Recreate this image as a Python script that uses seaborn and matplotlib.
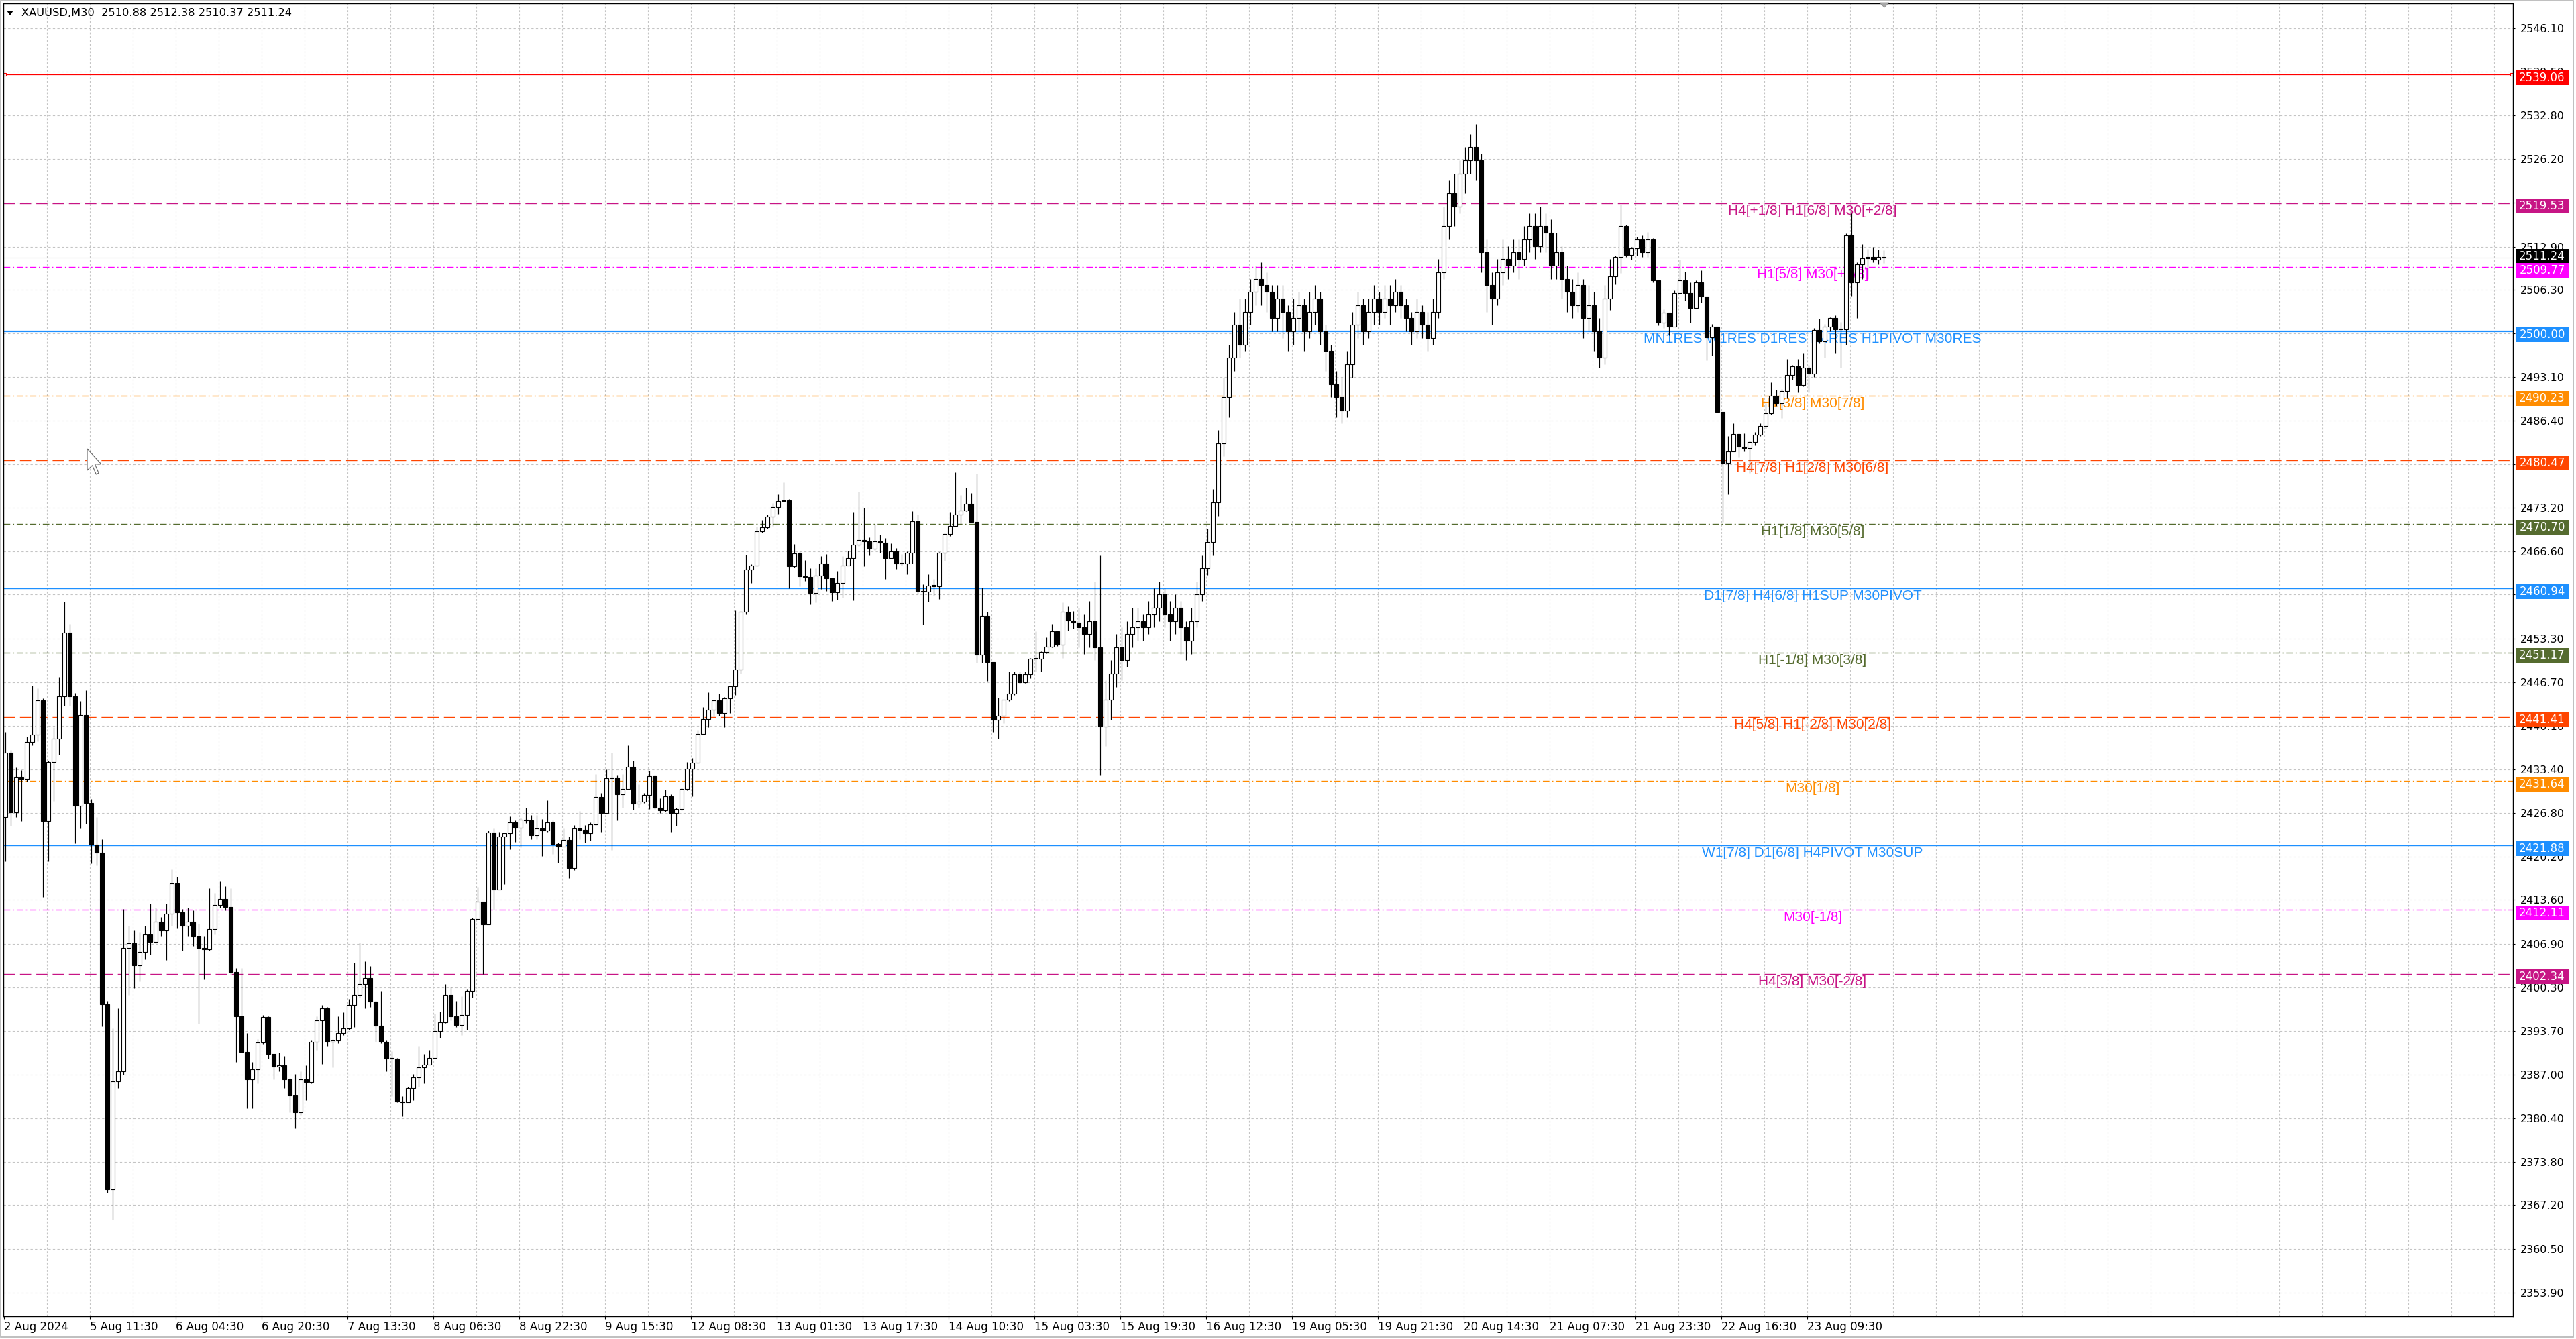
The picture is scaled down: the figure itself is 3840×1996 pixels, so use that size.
import numpy as np
import pandas as pd
import matplotlib
matplotlib.use("Agg")
import matplotlib.pyplot as plt
import seaborn as sns
from matplotlib.patches import Rectangle, Polygon
import matplotlib.transforms as mtransforms

# ---------------- DATA (XAUUSD, hourly aggregation of the M30 chart) ----------------
first_open = 2426.2

# 2 Aug 18:30 - 5 Aug
close_a = [2436.0, 2426.9, 2432.3, 2432.0, 2437.6, 2438.7, 2443.9, 2425.6, 2434.5, 2438.1,
           2444.5, 2454.2, 2444.5, 2427.9, 2441.7, 2428.3, 2422.0, 2420.8, 2397.7, 2369.6,
           2386.0, 2387.5, 2406.3, 2407.0, 2403.6, 2405.7, 2408.3, 2407.2, 2410.3, 2409.0,
           2411.5, 2416.1, 2411.7, 2409.7, 2410.3, 2408.0, 2406.3, 2406.1, 2409.2, 2412.8,
           2413.7, 2412.5, 2402.6, 2395.9, 2390.5, 2386.3, 2387.8, 2391.9, 2395.8]
high_a = [2439.1, 2436.4, 2433.7, 2433.3, 2438.4, 2446.2, 2445.8, 2444.2, 2434.7, 2439.8,
          2447.5, 2458.9, 2455.6, 2445.0, 2443.8, 2445.5, 2428.9, 2426.2, 2422.8, 2398.2,
          2394.1, 2397.1, 2412.2, 2409.7, 2409.0, 2408.6, 2409.7, 2413.0, 2412.4, 2411.0,
          2413.0, 2418.2, 2417.1, 2412.2, 2412.4, 2412.0, 2410.0, 2408.0, 2415.4, 2414.7,
          2416.4, 2415.7, 2415.4, 2403.2, 2403.2, 2393.4, 2389.0, 2392.4, 2396.1]
low_a = [2419.5, 2424.9, 2426.2, 2425.6, 2431.6, 2437.1, 2437.7, 2414.1, 2419.5, 2428.6,
         2435.7, 2443.1, 2443.1, 2422.2, 2424.5, 2425.2, 2419.1, 2418.8, 2394.4, 2369.1,
         2365.0, 2385.0, 2387.0, 2399.2, 2400.2, 2401.2, 2404.6, 2405.3, 2407.0, 2408.0,
         2404.5, 2409.7, 2409.3, 2405.9, 2408.0, 2406.6, 2394.8, 2401.5, 2405.9, 2408.3,
         2412.4, 2412.0, 2402.2, 2389.0, 2390.4, 2381.9, 2381.9, 2385.7, 2391.7]

# 6 Aug - 8 Aug
close_b = [2390.2, 2388.3, 2388.5, 2386.3, 2383.9, 2381.3, 2386.3, 2385.9, 2392.0, 2395.3,
           2397.1, 2392.0, 2392.2, 2393.4, 2394.1, 2397.6, 2399.2, 2400.8, 2401.7, 2398.1,
           2394.5, 2392.0, 2389.5, 2389.5, 2382.9, 2382.8, 2385.0, 2386.6, 2388.2, 2388.6,
           2389.6, 2393.7, 2395.0, 2399.2, 2395.9, 2394.6, 2396.1, 2399.8, 2410.7, 2413.3,
           2409.9, 2423.8, 2415.2, 2423.2, 2423.7, 2425.4, 2424.6, 2425.8, 2425.7, 2423.4]
high_b = [2395.9, 2389.6, 2390.4, 2389.9, 2386.5, 2387.1, 2387.5, 2388.5, 2392.2, 2395.9,
          2397.6, 2397.3, 2392.4, 2395.9, 2396.5, 2398.6, 2404.1, 2407.1, 2404.3, 2403.5,
          2398.2, 2399.8, 2392.2, 2390.6, 2389.6, 2383.8, 2385.2, 2387.1, 2391.4, 2390.2,
          2390.8, 2396.3, 2396.6, 2400.8, 2400.4, 2398.2, 2399.0, 2400.0, 2410.9, 2415.6,
          2413.3, 2424.1, 2424.4, 2423.9, 2423.8, 2426.3, 2425.7, 2426.1, 2427.6, 2426.5]
low_b = [2389.5, 2386.3, 2387.5, 2385.0, 2381.3, 2378.9, 2380.9, 2383.2, 2385.7, 2390.8,
         2388.7, 2391.4, 2388.1, 2391.8, 2393.0, 2393.9, 2394.3, 2398.8, 2397.1, 2397.3,
         2392.0, 2391.8, 2387.5, 2383.8, 2382.8, 2380.7, 2382.8, 2383.2, 2385.2, 2385.7,
         2388.7, 2389.6, 2392.6, 2394.9, 2395.3, 2394.3, 2393.0, 2393.9, 2398.8, 2410.7,
         2402.3, 2409.9, 2412.1, 2415.2, 2416.0, 2421.3, 2422.4, 2421.6, 2425.3, 2422.8]

# 9 Aug - 12 Aug
close_c = [2424.5, 2424.1, 2425.4, 2422.1, 2421.7, 2422.7, 2418.4, 2424.5, 2424.2, 2423.7,
           2425.1, 2429.2, 2426.8, 2432.1, 2432.2, 2429.6, 2430.5, 2433.8, 2428.2, 2428.5,
           2429.5, 2432.4, 2427.6, 2427.2, 2429.3, 2426.8, 2427.4, 2430.5, 2433.5, 2434.4,
           2438.8, 2441.1, 2442.5, 2443.9, 2442.0, 2444.2, 2446.1, 2448.6, 2457.4, 2463.8,
           2464.4, 2469.6, 2470.2, 2471.9, 2473.3, 2474.2, 2474.3, 2464.3, 2466.3, 2462.8]
high_c = [2426.5, 2425.9, 2428.7, 2425.7, 2422.3, 2424.5, 2423.2, 2425.0, 2427.1, 2425.0,
          2425.4, 2432.7, 2429.9, 2433.4, 2436.0, 2432.5, 2432.7, 2437.1, 2434.7, 2431.2,
          2429.9, 2433.2, 2432.5, 2429.0, 2430.4, 2429.6, 2427.6, 2430.7, 2434.5, 2435.2,
          2439.4, 2442.9, 2445.1, 2444.0, 2444.9, 2444.4, 2446.2, 2457.6, 2457.5, 2466.1,
          2464.6, 2470.3, 2471.4, 2472.2, 2473.9, 2475.2, 2477.1, 2474.5, 2467.7, 2466.6]
low_c = [2422.8, 2420.3, 2423.9, 2420.6, 2419.3, 2421.9, 2416.9, 2418.1, 2422.8, 2422.3,
         2422.6, 2425.0, 2423.9, 2426.8, 2421.2, 2425.7, 2427.6, 2430.5, 2427.3, 2427.6,
         2428.3, 2427.4, 2427.4, 2426.8, 2427.0, 2423.9, 2424.9, 2427.2, 2430.3, 2429.3,
         2434.3, 2438.7, 2439.8, 2441.5, 2441.6, 2439.8, 2442.0, 2444.7, 2448.0, 2457.0,
         2461.8, 2464.3, 2469.4, 2470.0, 2470.4, 2472.3, 2474.1, 2461.0, 2464.1, 2461.3]

# 13 Aug - 15 Aug
close_d = [2462.7, 2460.2, 2462.9, 2464.7, 2462.5, 2460.3, 2461.8, 2464.4, 2465.5, 2467.6,
           2468.3, 2468.1, 2467.0, 2468.1, 2467.9, 2465.5, 2466.6, 2464.7, 2464.7, 2466.4,
           2471.2, 2460.5, 2460.4, 2461.4, 2461.3, 2466.4, 2469.2, 2470.4, 2472.2, 2472.8,
           2473.8, 2471.1, 2450.9, 2456.8, 2449.7, 2441.0, 2441.6, 2444.0, 2444.9, 2447.9,
           2446.7, 2447.9, 2450.2, 2450.2, 2451.3, 2452.1, 2454.4, 2452.4, 2457.4, 2456.1]
high_d = [2465.2, 2464.0, 2464.0, 2465.8, 2466.2, 2462.5, 2463.6, 2465.8, 2466.7, 2472.6,
          2475.6, 2473.2, 2468.7, 2470.7, 2469.1, 2468.6, 2467.8, 2467.1, 2466.2, 2466.6,
          2472.7, 2472.2, 2461.6, 2463.1, 2462.4, 2466.5, 2469.3, 2472.6, 2478.6, 2475.1,
          2476.2, 2475.4, 2478.4, 2461.1, 2457.4, 2449.6, 2444.3, 2444.0, 2448.3, 2448.3,
          2448.3, 2448.3, 2450.3, 2454.4, 2451.4, 2453.5, 2455.6, 2454.5, 2458.8, 2458.2]
low_d = [2462.1, 2458.5, 2458.8, 2460.9, 2460.5, 2459.0, 2459.2, 2459.5, 2464.4, 2459.1,
         2467.4, 2464.3, 2466.0, 2466.8, 2466.4, 2462.4, 2465.5, 2463.9, 2464.4, 2463.1,
         2464.7, 2460.0, 2455.4, 2458.9, 2459.8, 2459.3, 2465.1, 2468.9, 2470.4, 2470.6,
         2472.7, 2470.9, 2449.6, 2449.6, 2446.9, 2439.1, 2438.1, 2440.5, 2443.8, 2444.7,
         2446.5, 2446.6, 2447.3, 2448.3, 2448.3, 2451.1, 2452.0, 2452.2, 2450.3, 2454.5]

# 15 Aug - 21 Aug
close_e = [2455.8, 2455.0, 2454.0, 2456.0, 2452.0, 2440.0, 2444.0, 2448.0, 2452.0, 2450.0,
           2454.0, 2455.0, 2456.0, 2455.0, 2457.0, 2458.0, 2460.0, 2457.0, 2456.0, 2458.0,
           2455.0, 2453.0, 2456.0, 2460.0, 2464.0, 2468.0, 2474.0, 2483.0, 2490.0, 2496.0,
           2501.0, 2498.0, 2503.0, 2506.0, 2508.0, 2507.0, 2506.0, 2502.0, 2505.0, 2503.0,
           2500.0, 2502.0, 2504.0, 2500.0, 2503.0, 2505.0, 2500.0, 2497.0, 2492.0, 2490.0,
           2488.0, 2495.0, 2501.0, 2504.0, 2500.0, 2503.0, 2505.0, 2503.0, 2505.0, 2504.0,
           2506.0, 2504.0, 2502.0, 2500.0, 2503.0, 2501.0, 2499.0, 2503.0, 2509.0, 2516.0,
           2521.0, 2519.0, 2524.0, 2526.0, 2528.0, 2526.0, 2512.0, 2507.0, 2505.0, 2509.0,
           2511.0, 2510.0, 2512.0, 2511.0, 2514.0, 2516.0, 2513.0, 2516.0, 2515.0, 2510.0,
           2512.0, 2508.0, 2506.0, 2504.0, 2507.0, 2502.0, 2504.0, 2500.0, 2496.0, 2505.0,
           2508.4]
high_e = [2457.5, 2458.0, 2457.0, 2459.0, 2462.0, 2466.0, 2447.0, 2450.0, 2454.0, 2455.0,
          2456.0, 2458.0, 2458.0, 2457.0, 2459.0, 2461.0, 2462.0, 2461.0, 2459.0, 2460.0,
          2459.0, 2456.0, 2458.0, 2462.0, 2466.0, 2470.0, 2476.0, 2485.0, 2493.0, 2498.0,
          2503.0, 2505.0, 2505.0, 2508.0, 2510.0, 2510.5, 2509.0, 2507.0, 2507.0, 2507.0,
          2504.0, 2505.0, 2506.0, 2505.0, 2506.0, 2507.0, 2506.0, 2501.0, 2498.0, 2494.0,
          2493.0, 2497.0, 2503.0, 2506.0, 2505.0, 2505.0, 2507.0, 2506.0, 2507.0, 2507.0,
          2508.0, 2507.0, 2505.0, 2503.0, 2505.0, 2504.0, 2503.0, 2505.0, 2511.0, 2519.0,
          2523.0, 2524.0, 2526.0, 2528.0, 2530.0, 2531.5, 2527.0, 2514.0, 2509.0, 2511.0,
          2514.0, 2513.0, 2514.0, 2514.0, 2516.0, 2518.0, 2518.0, 2519.0, 2518.0, 2517.0,
          2515.0, 2513.0, 2510.0, 2508.0, 2509.0, 2508.0, 2507.0, 2506.0, 2502.0, 2507.0,
          2511.0]
low_e = [2454.8, 2452.0, 2451.0, 2452.0, 2450.0, 2432.5, 2437.0, 2441.0, 2446.0, 2447.0,
         2449.0, 2452.0, 2453.0, 2453.0, 2454.0, 2455.0, 2456.0, 2455.0, 2453.0, 2454.0,
         2451.0, 2450.0, 2451.0, 2455.0, 2459.0, 2463.0, 2466.0, 2472.0, 2481.0, 2487.0,
         2494.0, 2496.0, 2497.0, 2501.0, 2504.0, 2504.0, 2503.0, 2500.0, 2500.0, 2499.0,
         2497.0, 2498.0, 2500.0, 2497.0, 2499.0, 2501.0, 2498.0, 2494.0, 2490.0, 2487.0,
         2486.0, 2487.0, 2493.0, 2499.0, 2498.0, 2499.0, 2501.0, 2501.0, 2502.0, 2501.0,
         2503.0, 2502.0, 2500.0, 2498.0, 2499.0, 2499.0, 2497.0, 2498.0, 2502.0, 2508.0,
         2514.0, 2516.0, 2518.0, 2521.0, 2524.0, 2523.0, 2509.0, 2503.0, 2501.0, 2504.0,
         2507.0, 2508.0, 2509.0, 2508.0, 2510.0, 2512.0, 2511.0, 2512.0, 2512.0, 2508.0,
         2508.0, 2505.0, 2503.0, 2502.0, 2503.0, 2499.0, 2500.0, 2497.0, 2494.5, 2495.0,
         2503.3]

# 22 Aug - 23 Aug
close_f = [2511.3, 2516.0, 2511.6, 2512.7, 2514.0, 2512.0, 2514.0, 2507.8, 2501.3, 2502.9,
           2500.7, 2505.8, 2507.8, 2505.8, 2503.6, 2507.5, 2505.3, 2499.1, 2500.7, 2487.8,
           2480.0, 2481.8, 2484.4, 2482.5, 2482.3, 2483.2, 2484.3, 2485.6, 2487.6, 2490.2,
           2489.1, 2490.9, 2493.4, 2494.7, 2491.8, 2494.5, 2493.6, 2500.2, 2498.5, 2500.7,
           2502.0, 2500.3, 2500.3, 2514.6, 2507.5, 2510.2, 2511.1, 2511.3, 2510.9, 2511.3,
           2511.24]
high_f = [2511.5, 2519.3, 2516.2, 2512.9, 2514.4, 2514.6, 2515.1, 2514.2, 2507.8, 2503.4,
          2502.9, 2506.2, 2510.9, 2509.1, 2507.5, 2507.8, 2509.3, 2505.3, 2501.1, 2500.7,
          2487.8, 2484.1, 2486.0, 2484.5, 2484.5, 2483.4, 2484.7, 2486.0, 2489.1, 2492.3,
          2491.1, 2491.2, 2495.8, 2494.9, 2495.8, 2496.7, 2494.9, 2500.5, 2501.9, 2501.1,
          2502.2, 2502.5, 2501.4, 2514.9, 2518.0, 2510.5, 2513.3, 2512.5, 2512.9, 2512.4,
          2512.38]
low_f = [2507.1, 2508.9, 2511.3, 2510.9, 2511.5, 2511.3, 2511.3, 2507.5, 2500.9, 2500.5,
         2499.4, 2500.7, 2505.8, 2504.7, 2501.3, 2503.6, 2504.4, 2495.6, 2496.3, 2487.8,
         2471.0, 2475.2, 2481.8, 2480.9, 2481.8, 2478.5, 2482.7, 2484.1, 2485.2, 2487.4,
         2488.7, 2486.9, 2489.8, 2492.7, 2490.7, 2491.6, 2490.7, 2493.1, 2498.2, 2496.0,
         2500.0, 2496.7, 2494.5, 2498.0, 2505.4, 2502.0, 2508.0, 2508.0, 2510.5, 2510.2,
         2510.37]

# price levels (horizontal objects)
level_prices = [2519.53, 2509.77, 2500.00, 2490.23, 2480.47, 2470.70, 2460.94,
                2451.17, 2441.41, 2431.64, 2421.88, 2412.11, 2402.34]
level_texts = ["H4[+1/8] H1[6/8] M30[+2/8]", "H1[5/8] M30[+1/8]",
               "MN1RES W1RES D1RES H4RES H1PIVOT M30RES", "H1[3/8] M30[7/8]",
               "H4[7/8] H1[2/8] M30[6/8]", "H1[1/8] M30[5/8]",
               "D1[7/8] H4[6/8] H1SUP M30PIVOT", "H1[-1/8] M30[3/8]",
               "H4[5/8] H1[-2/8] M30[2/8]", "M30[1/8]",
               "W1[7/8] D1[6/8] H4PIVOT M30SUP", "M30[-1/8]", "H4[3/8] M30[-2/8]"]
level_colors = ["#C71585", "#FF00FF", "#1E90FF", "#FF8C00", "#FF4500", "#556B2F", "#1E90FF",
                "#556B2F", "#FF4500", "#FF8C00", "#1E90FF", "#FF00FF", "#C71585"]
level_styles = ["dash", "dashdot", "solid", "dashdot", "dash", "dashdot", "solid",
                "dashdot", "dash", "dashdot", "solid", "dashdot", "dash"]
level_widths = [1, 1, 2, 1, 1, 1, 1, 1, 1, 1, 1, 1, 1]
top_level = 2539.06
bid_price = 2511.24

title_text = "XAUUSD,M30  2510.88 2512.38 2510.37 2511.24"

y_ticks = [2546.10, 2539.50, 2532.80, 2526.20, 2519.60, 2512.90, 2506.30, 2499.70, 2493.10,
           2486.40, 2479.80, 2473.20, 2466.60, 2460.00, 2453.30, 2446.70, 2440.10, 2433.40,
           2426.80, 2420.20, 2413.60, 2406.90, 2400.30, 2393.70, 2387.00, 2380.40, 2373.80,
           2367.20, 2360.50, 2353.90]
time_labels = ["2 Aug 2024", "5 Aug 11:30", "6 Aug 04:30", "6 Aug 20:30", "7 Aug 13:30",
               "8 Aug 06:30", "8 Aug 22:30", "9 Aug 15:30", "12 Aug 08:30", "13 Aug 01:30",
               "13 Aug 17:30", "14 Aug 10:30", "15 Aug 03:30", "15 Aug 19:30", "16 Aug 12:30",
               "19 Aug 05:30", "19 Aug 21:30", "20 Aug 14:30", "21 Aug 07:30", "21 Aug 23:30",
               "22 Aug 16:30", "23 Aug 09:30"]
time_label_bars = [0, 32, 64, 96, 128, 160, 192, 224, 256, 288, 320, 352, 384, 416, 448,
                   480, 512, 544, 576, 608, 640, 672]

# ---------------- FIGURE ----------------
W, H, DPI = 3840, 1996, 100
sns.set_theme(style="white")
plt.rcParams["font.family"] = ["DejaVu Sans"]
plt.rcParams["axes.edgecolor"] = "black"

fig = plt.figure(figsize=(W / DPI, H / DPI), dpi=DPI)
fig.patch.set_facecolor("white")
AX_L, AX_R, AX_T, AX_B = 5, 3746, 5, 1962
ax = fig.add_axes([AX_L / W, 1 - AX_B / H, (AX_R - AX_L) / W, (AX_B - AX_T) / H])
ax.set_facecolor("white")

XMIN, XMAX = -0.25, 935.0
YMIN, YMAX = 2350.32, 2549.87
ax.set_xlim(XMIN, XMAX)
ax.set_ylim(YMIN, YMAX)

# grid
grid_col = "#C4C4C4"
ax.hlines(y_ticks, XMIN, XMAX, colors=grid_col, linewidth=0.8, linestyles=(0, (3, 3)), zorder=0.5)
ax.vlines(np.arange(16, 935, 16), YMIN, YMAX, colors=grid_col, linewidth=0.8,
          linestyles=(0, (2.5, 2.5)), zorder=0.5)

# level lines
dash_map = {"dash": (0, (12, 5.5)), "dashdot": (0, (7, 2.8, 1.4, 2.8)), "solid": "-"}
for p, c, s, w in zip(level_prices, level_colors, level_styles, level_widths):
    ax.axhline(p, color=c, linestyle=dash_map[s], linewidth=1.0 if w == 1 else 1.6, zorder=1)
ax.axhline(top_level, color="red", linewidth=0.9, zorder=1)
ax.plot([XMIN + 0.6, XMAX - 0.5], [top_level, top_level], "s", ms=3.2, mfc="white",
        mec="red", mew=0.8, zorder=1.2, clip_on=False)
ax.axhline(bid_price, color="#B8B8B8", linewidth=0.8, zorder=1)

# level labels
x_label = (2702 - 6) / 4.0
for p, c, t in zip(level_prices, level_colors, level_texts):
    ax.annotate(t, xy=(x_label, p), xytext=(0, -11.5), textcoords="offset pixels",
                ha="center", va="center", color=c, fontsize=15,
                family=["Liberation Sans", "DejaVu Sans"], zorder=2)

# candles
df = pd.DataFrame({
    "close": close_a + close_b + close_c + close_d + close_e + close_f,
    "high": high_a + high_b + high_c + high_d + high_e + high_f,
    "low": low_a + low_b + low_c + low_d + low_e + low_f,
})
df["open"] = [first_open] + df["close"].tolist()[:-1]
df["x"] = 2 * np.arange(len(df)) + 0.5
df["hi"] = df[["high", "open", "close"]].max(axis=1)
df["lo"] = df[["low", "open", "close"]].min(axis=1)
df["bottom"] = df[["open", "close"]].min(axis=1)
df["body"] = (df["close"] - df["open"]).abs().clip(lower=0.12)
up = df["close"] >= df["open"]

ax.vlines(df["x"], df["lo"], df["hi"], colors="black", linewidth=0.85, zorder=3)
ax.bar(df["x"][up], df["body"][up], bottom=df["bottom"][up], width=1.3, color="white",
       edgecolor="black", linewidth=0.8, zorder=4)
ax.bar(df["x"][~up], df["body"][~up], bottom=df["bottom"][~up], width=1.3, color="black",
       edgecolor="black", linewidth=0.8, zorder=4)

# axes / ticks
for sp in ax.spines.values():
    sp.set_color("black")
    sp.set_linewidth(1.0)
ax.yaxis.tick_right()
ax.set_yticks(y_ticks)
ax.set_yticklabels([f"{v:.2f}" for v in y_ticks])
ax.tick_params(axis="y", which="major", direction="out", length=2.5, width=0.8, pad=5.5,
               labelsize=11.5, colors="black", right=True, left=False,
               labelright=True, labelleft=False)
ax.set_xticks(time_label_bars)
ax.set_xticklabels(time_labels)
ax.tick_params(axis="x", which="major", direction="out", length=3, width=0.8, pad=2,
               labelsize=12, colors="black", bottom=True)
for lbl in ax.get_xticklabels():
    lbl.set_horizontalalignment("left")

# price label boxes on the right scale
blend = mtransforms.blended_transform_factory(ax.transAxes, ax.transData)
ax_w_px = AX_R - AX_L
box_x0 = (3750 - AX_L) / ax_w_px
box_w = 79 / ax_w_px
box_xc = box_x0 + box_w / 2
px_per_unit = (AX_B - AX_T) / (YMAX - YMIN)
box_h = 22 / px_per_unit


def price_box(price, color, z, shift_px):
    yc = price - shift_px / px_per_unit
    ax.add_patch(Rectangle((box_x0, yc - box_h / 2), box_w, box_h, transform=blend,
                           facecolor=color, edgecolor="none", clip_on=False, zorder=z))
    ax.text(box_xc, yc, f"{price:.2f}", transform=blend, ha="center", va="center",
            color="white", fontsize=12, clip_on=False, zorder=z + 0.1)


price_box(top_level, "#FF0000", 6, 4.5)
price_box(bid_price, "#000000", 6, -1.5)
for k, (p, c) in enumerate(zip(level_prices, level_colors)):
    price_box(p, c, 7 + k * 0.2, 4.5)

# title with triangle
fig.text(32 / W, 1 - 20 / H, title_text, fontsize=11.7, ha="left", va="center", color="black")


def fpx(pts):
    return [(x / W, 1 - y / H) for x, y in pts]


fig.patches.append(Polygon(fpx([(10, 16), (20, 16), (15, 23)]), closed=True,
                           transform=fig.transFigure, facecolor="black", edgecolor="none"))
# chart shift marker
fig.patches.append(Polygon(fpx([(2802, 4), (2816, 4), (2809, 11)]), closed=True,
                           transform=fig.transFigure, facecolor="#A8A8A8", edgecolor="#909090",
                           linewidth=0.6))
# mouse cursor
cur = [(0, 0), (0, 32), (7.6, 24.7), (13.3, 38), (17.1, 36.1), (11.4, 22.8), (20.9, 22.8)]
fig.patches.append(Polygon(fpx([(130 + a, 669 + b) for a, b in cur]), closed=True,
                           transform=fig.transFigure, facecolor="white", edgecolor="#606060",
                           linewidth=0.8, zorder=10))
# window frame
fig.patches.append(Rectangle((0.5 / W, 3 / H), 3835 / W, 1 - 4 / H, transform=fig.transFigure,
                             facecolor="none", edgecolor="#B4B4B4", linewidth=1.2))

fig.savefig("out.png", dpi=DPI, facecolor="white")
